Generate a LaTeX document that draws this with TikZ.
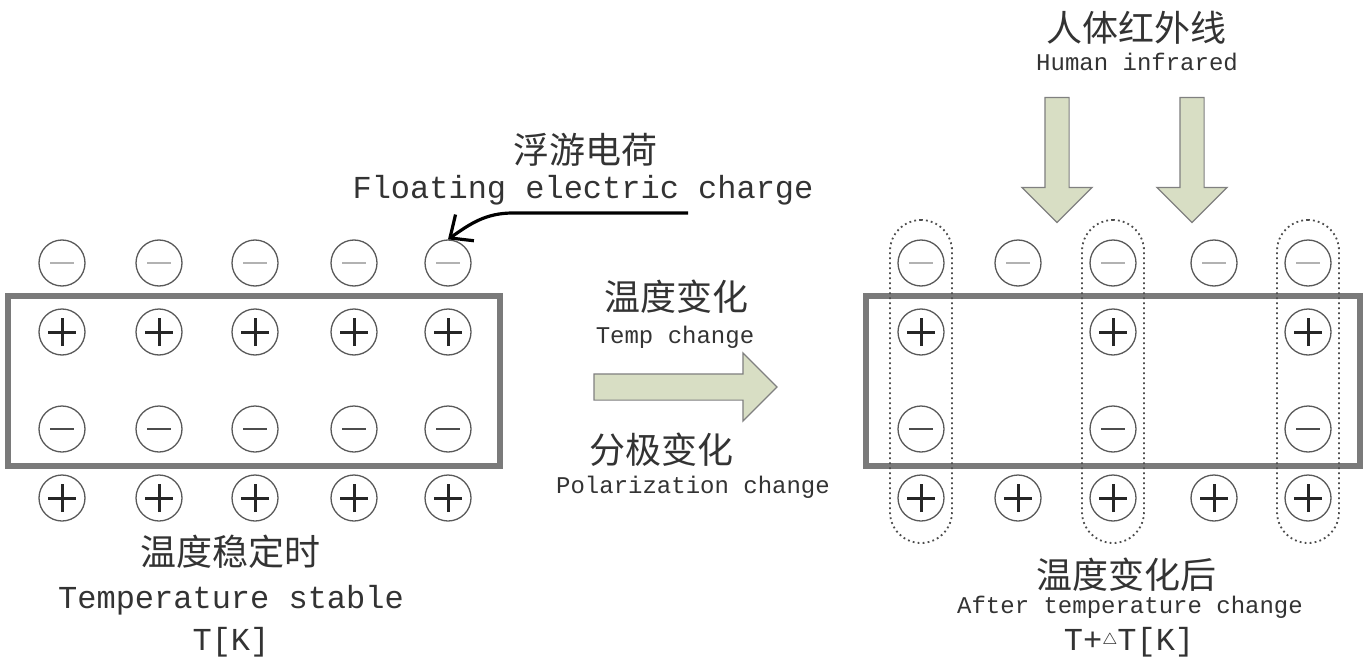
\documentclass[tikz,border=0pt]{standalone}
\usepackage{fontspec}
\setmonofont{Liberation Mono}
\newfontfamily\cjk{Noto Sans CJK SC}
\usetikzlibrary{shapes.arrows, arrows.meta}
\definecolor{beamgreen}{RGB}{216,222,196}
\definecolor{framegray}{RGB}{122,122,122}

\begin{document}
\begin{tikzpicture}[x=0.5pt, y=-0.5pt]
    % --- STYLES ---
    \tikzset{
      charge/.style={circle, draw=black!65, line width=0.65pt, minimum size=23pt, inner sep=0pt},
      pluscharge/.style={charge, path picture={
          \draw[line width=1.5pt, black!85] ([xshift=-7pt]path picture bounding box.center) -- ([xshift=7pt]path picture bounding box.center);
          \draw[line width=1.5pt, black!85] ([yshift=-7pt]path picture bounding box.center) -- ([yshift=7pt]path picture bounding box.center);}},
      minuscharge/.style={charge, path picture={
          \draw[line width=0.9pt, black!70] ([xshift=-6pt]path picture bounding box.center) -- ([xshift=6pt]path picture bounding box.center);}},
      floatcharge/.style={charge, path picture={
          \draw[line width=0.9pt, black!30] ([xshift=-6pt]path picture bounding box.center) -- ([xshift=6pt]path picture bounding box.center);}},
      crystal/.style={rectangle, draw=framegray, line width=3pt, inner sep=0pt},
      capsule/.style={rectangle, rounded corners=15.5pt, draw=black!70, line width=0.9pt, dash pattern=on 0.9pt off 1.6pt, minimum width=31pt, minimum height=161.5pt},
      heatarrow/.style={single arrow, draw=black!50, line width=0.6pt, fill=beamgreen, inner xsep=0pt, single arrow tip angle=90},
      pointer/.style={-{Straight Barb[length=9pt, width=16pt]}, line width=1.6pt, black},
      cjklabel/.style={font=\cjk\fontsize{18}{18}\selectfont, text=black!80, inner sep=0pt},
      biglabel/.style={font=\ttfamily\fontsize{16}{16}\selectfont, text=black!80, inner sep=0pt},
      smalllabel/.style={font=\ttfamily\fontsize{12}{12}\selectfont, text=black!80, inner sep=0pt}
    }
    \useasboundingbox (0,0) rectangle (1368,663);

    % --- CRYSTALS ---
    \node[crystal, minimum width=246pt, minimum height=85pt] (leftbox) at (254,381) {};
    \node[crystal, minimum width=247pt, minimum height=85pt] (rightbox) at (1113,381) {};

    % --- CHARGES, temperature stable ---
    \foreach \x [count=\i] in {62,159,255,354,448} {
      \node[floatcharge] (fl\i) at (\x,263) {};
      \node[pluscharge]  (pl\i) at (\x,332) {};
      \node[minuscharge] (ml\i) at (\x,429) {};
      \node[pluscharge]  (bl\i) at (\x,498) {};
    }

    % --- CHARGES, after temperature change ---
    \foreach \x [count=\i] in {921,1018,1113,1214,1308} {
      \node[floatcharge] (fr\i) at (\x,263) {};
      \node[pluscharge]  (br\i) at (\x,498) {};
    }
    \foreach \x [count=\i] in {921,1113,1308} {
      \node[pluscharge]  (pr\i) at (\x,332) {};
      \node[minuscharge] (mr\i) at (\x,429) {};
      \node[capsule]     (cap\i) at (\x,381.5) {};
    }

    % --- BIG ARROWS ---
    \node[heatarrow, minimum height=91.5pt, inner ysep=6.25pt, single arrow head extend=10.5pt] (change) at (679,387) {};
    \node[heatarrow, rotate=-90, minimum height=62.5pt, inner ysep=5.75pt, single arrow head extend=11.5pt] (irleft) at (1057,154) {};
    \node[heatarrow, rotate=-90, minimum height=62.5pt, inner ysep=5.75pt, single arrow head extend=11.5pt] (irright) at (1192,154) {};

    % --- LABELS ---
    \node[cjklabel]   (fccn) at (585,150) {浮游电荷};
    \node[biglabel]   (fcen) at (583,190) {Floating electric charge};
    \node[cjklabel]   (tccn) at (676,297) {温度变化};
    \node[smalllabel] (tcen) at (675,337) {Temp change};
    \node[cjklabel]   (pccn) at (661,450) {分极变化};
    \node[smalllabel] (pcen) at (693,487) {Polarization change};
    \node[cjklabel]   (ircn) at (1136,28) {人体红外线};
    \node[smalllabel] (iren) at (1137,62) {Human infrared};
    \node[cjklabel]   (tscn) at (230,552) {温度稳定时};
    \node[biglabel]   (tsen) at (231,600) {Temperature stable};
    \node[biglabel]   (tsk)  at (231,642) {T[K]};
    \node[cjklabel]   (tacn) at (1126,575) {温度变化后};
    \node[smalllabel] (taen) at (1130,607) {After temperature change};
    \node[biglabel]   (tak)  at (1129,642) {T+\raisebox{0.35ex}{$\scriptscriptstyle\triangle$}T[K]};

    % --- POINTER ---
    \coordinate (fcstart) at (688,213);
    \draw[pointer] (fcstart) -- ++(-175,0) to[out=180, in=35] (fl5.north);

\end{tikzpicture}
\end{document}
